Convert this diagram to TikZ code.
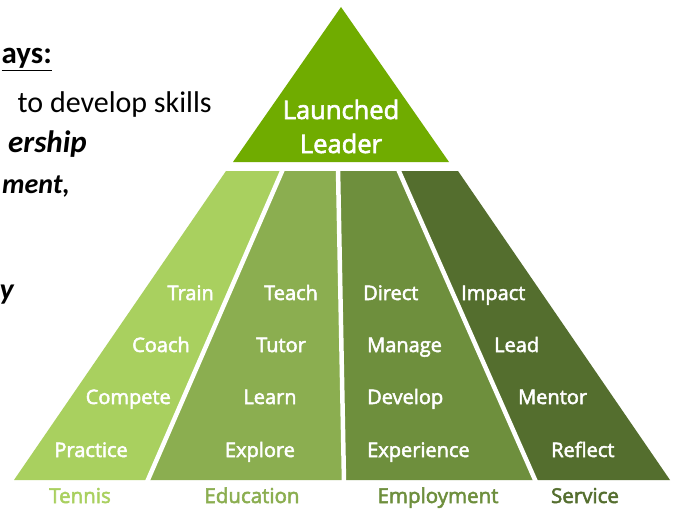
\documentclass[tikz,border=0pt]{standalone}
\usepackage{fontspec}
\setmainfont{Open Sans}
\newfontfamily\lblfont[FakeBold=2.5]{Open Sans}
\newfontfamily\calfont{Carlito}
\definecolor{topg}{RGB}{112,172,0}
\definecolor{pone}{RGB}{169,208,95}
\definecolor{ptwo}{RGB}{139,174,80}
\definecolor{pthree}{RGB}{110,143,61}
\definecolor{pfour}{RGB}{84,110,46}
\tikzset{
  lbl/.style={text=white, font=\lblfont\fontsize{20}{24}\selectfont, inner sep=0pt, anchor=base},
  cat/.style={font=\lblfont\fontsize{20.5}{24}\selectfont, inner sep=0pt, anchor=base},
  divline/.style={draw=white, line width=4.5pt},
  lefttxt/.style={inner sep=0pt, anchor=base east, text=black}
}
\begin{document}
\begin{tikzpicture}[x=1pt,y=-1pt]
\useasboundingbox (0,0) rectangle (676,508);
\clip (0,0) rectangle (676,508);
\fill[white] (0,0) rectangle (676,508);
% top triangle
\fill[topg] (341,7) -- (449,162) -- (233,162) -- cycle;
\node[lbl, font=\lblfont\fontsize{25.5}{30}\selectfont] (l1) at (341,119) {Launched};
\node[lbl, font=\lblfont\fontsize{25.5}{30}\selectfont] (l2) at (341,153) {Leader};
% panels
\fill[pone] (226,171) -- (283,171) -- (148,480) -- (14,480) -- cycle;
\fill[ptwo] (283,171) -- (338,171) -- (344,480) -- (148,480) -- cycle;
\fill[pthree] (338,171) -- (398,171) -- (535,480) -- (344,480) -- cycle;
\fill[pfour] (398,171) -- (458,171) -- (670,480) -- (535,480) -- cycle;
\coordinate (d1a) at (283,169); \coordinate (d1b) at (147,482);
\coordinate (d2a) at (338,169); \coordinate (d2b) at (344,482);
\coordinate (d3a) at (398,169); \coordinate (d3b) at (536,482);
\draw[divline] (d1a) -- (d1b);
\draw[divline] (d2a) -- (d2b);
\draw[divline] (d3a) -- (d3b);
% panel 1 labels
\node[lbl, anchor=base east] (t1) at (214,300) {Train};
\node[lbl, anchor=base east] (t2) at (190,352) {Coach};
\node[lbl, anchor=base east] (t3) at (171,404) {Compete};
\node[lbl, anchor=base east] (t4) at (128,457) {Practice};
% panel 2 labels
\node[lbl] (e1) at (291,300) {Teach};
\node[lbl] (e2) at (281,352) {Tutor};
\node[lbl] (e3) at (270,404) {Learn};
\node[lbl] (e4) at (260,457) {Explore};
% panel 3 labels
\node[lbl, anchor=base west] (m1) at (363,300) {Direct};
\node[lbl, anchor=base west] (m2) at (367,352) {Manage};
\node[lbl, anchor=base west] (m3) at (367,404) {Develop};
\node[lbl, anchor=base west] (m4) at (367,457) {Experience};
% panel 4 labels
\node[lbl, anchor=base west] (s1) at (461,300) {Impact};
\node[lbl, anchor=base west] (s2) at (494,352) {Lead};
\node[lbl, anchor=base west] (s3) at (518,404) {Mentor};
\node[lbl, anchor=base west] (s4) at (551,457) {Reflect};
% categories
\node[cat, text=pone] (c1) at (80,503) {Tennis};
\node[cat, text=ptwo] (c2) at (252,503) {Education};
\node[cat, text=pthree] (c3) at (438,503) {Employment};
\node[cat, text=pfour] (c4) at (585,503) {Service};
% left text fragments
\node[lefttxt, font=\calfont\bfseries\fontsize{31}{36}\selectfont] (h1) at (52,64) {\underline{ays:}};
\node[lefttxt, font=\calfont\fontsize{30}{36}\selectfont] (h2) at (212,112) {to develop skills};
\node[lefttxt, font=\calfont\bfseries\itshape\fontsize{31}{36}\selectfont] (h3) at (87,152) {ership};
\node[lefttxt, font=\calfont\bfseries\itshape\fontsize{28}{34}\selectfont] (h4) at (70,193) {ment,};
\node[lefttxt, font=\calfont\bfseries\itshape\fontsize{30}{36}\selectfont] (h5) at (14,299) {y};
\end{tikzpicture}
\end{document}
